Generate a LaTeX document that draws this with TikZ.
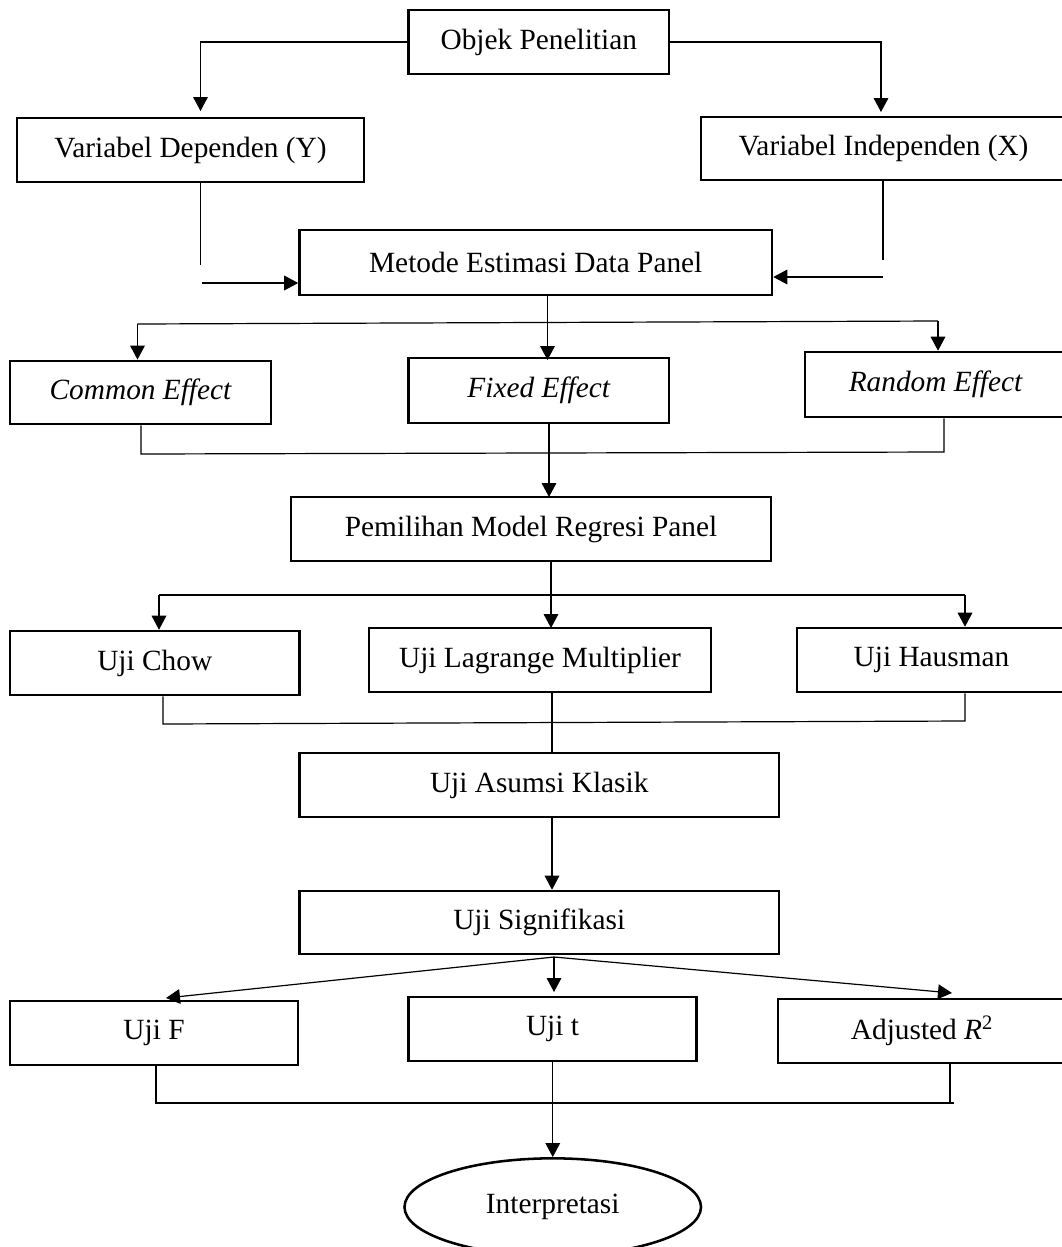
\documentclass[tikz,border=0pt]{standalone}
\usepackage{fontspec}
\setmainfont{Liberation Serif}
\usetikzlibrary{arrows.meta,shapes.geometric}

\begin{document}
\begin{tikzpicture}[x=0.75pt,y=0.75pt,yscale=-1,xscale=1,
    box/.style={draw, line width=1.9pt, minimum height=48pt, inner sep=0pt, font=\fontsize{22}{26}\selectfont},
    link/.style={line width=0.9pt},
    arr/.style={link, -{Triangle[length=10.5pt,width=11pt]}}]

            \useasboundingbox (0,0) rectangle (1062,1247);

            % Boxes
            \node [box, minimum width=195.4pt] (obj) at (538.75,42) {Objek Penelitian};
            \node [box, minimum width=260.3pt] (dep) at (190.5,150) {Variabel Dependen (Y)};
            \node [box, minimum width=273.8pt, minimum height=47.3pt] (ind) at (883.5,148.5) {Variabel Independen (X)};
            \node [box, minimum width=354.4pt, minimum height=48.8pt] (met) at (535.75,262.5) {Metode Estimasi Data Panel};
            \node [box, minimum width=195.8pt, minimum height=47.5pt] (com) at (140.5,392.5) {\itshape Common Effect};
            \node [box, minimum width=195.4pt, minimum height=48.8pt] (fix) at (538.75,390.5) {\itshape Fixed Effect};
            \node [box, minimum width=195.8pt, minimum height=48.8pt] (ran) at (935.5,384.5) {\itshape Random Effect};
            \node [box, minimum width=360pt] (pem) at (531,529) {Pemilihan Model Regresi Panel};
            \node [box, minimum width=217.1pt] (chow) at (154.75,663) {Uji Chow};
            \node [box, minimum width=256.5pt] (lag) at (540,660) {Uji Lagrange Multiplier};
            \node [box, minimum width=201.8pt] (hau) at (931.5,660) {Uji Hausman};
            \node [box, minimum width=359.6pt] (asu) at (539.25,785) {Uji Asumsi Klasik};
            \node [box, minimum width=359.6pt, minimum height=47.3pt] (sig) at (539.25,922.5) {Uji Signifikasi};
            \node [box, minimum width=216pt] (ujf) at (154,1033) {Uji F};
            \node [box, minimum width=216pt] (ujt) at (552.5,1029) {Uji t};
            \node [box, minimum width=216pt] (adj) at (922,1031) {Adjusted \textit{R}\textsuperscript{2}};
            \node [box, ellipse, minimum width=222.4pt, minimum height=73pt] (int) at (552.75,1207) {Interpretasi};

            % Junctions
            \coordinate (depIn) at (200.5,111);
            \coordinate (indIn) at (881,112);
            \coordinate (depOut) at (200.5,265);
            \coordinate (indOut) at (883,260);
            \coordinate (metL) at (202,283);
            \coordinate (metR) at (883,277);
            \coordinate (fixIn) at (547.5,360);
            \coordinate (effL) at (137.5,324);
            \coordinate (effR) at (938,321);
            \coordinate (effLo) at (141,454);
            \coordinate (effRo) at (944,452);
            \coordinate (pemIn) at (549,497);
            \coordinate (lagIn) at (551,628);
            \coordinate (ujiL) at (159,595);
            \coordinate (ujiR) at (965,595);
            \coordinate (ujiLo) at (163,724);
            \coordinate (ujiRo) at (965,721);
            \coordinate (asuIn) at (552,753);
            \coordinate (sigOut) at (554,957);
            \coordinate (fIn) at (166,998);
            \coordinate (tIn) at (554,992);
            \coordinate (adjIn) at (952,993);
            \coordinate (hasLo) at (156,1103);
            \coordinate (hasRo) at (954,1103);
            \coordinate (adjLo) at (950,1102);

            % Lines
            \draw [arr] (obj.west) -| (depIn);
            \draw [arr] (obj.east) -| (indIn);
            \draw [link] (dep.south -| depOut) -- (depOut);
            \draw [arr] (metL) -- (met.west |- metL);
            \draw [link] (ind.south -| indOut) -- (indOut);
            \draw [arr] (metR) -- (met.east |- metR);

            \draw [arr] (met.south -| fixIn) -- (fixIn);
            \draw [link] (effL) -- (effR);
            \draw [arr] (effL) -- (com.north -| effL);
            \draw [arr] (effR) -- (ran.north -| effR);
            \draw [link] (com.south -| effLo) -- (effLo) -- (effRo) -- (ran.south -| effRo);
            \draw [arr] (fix.south -| pemIn) -- (pemIn);

            \draw [arr] (pem.south -| lagIn) -- (lagIn);
            \draw [link] (ujiL) -- (ujiR);
            \draw [arr] (ujiL) -- (chow.north -| ujiL);
            \draw [arr] (ujiR) -- (hau.north -| ujiR);
            \draw [link] (chow.south -| ujiLo) -- (ujiLo) -- (ujiRo) -- (hau.south -| ujiRo);
            \draw [link] (lag.south -| asuIn) -- (asuIn);
            \draw [arr] (asu.south -| asuIn) -- (sig.north -| asuIn);

            \draw [arr] (sigOut) -- (fIn);
            \draw [arr] (sigOut) -- (tIn);
            \draw [arr] (sigOut) -- (adjIn);
            \draw [link] (ujf.south -| hasLo) -- (hasLo) -- (hasRo);
            \draw [link] (adj.south -| adjLo) -- (adjLo);
            \draw [arr] (ujt.south -| int.north) -- (int.north);

            \end{tikzpicture}
\end{document}
